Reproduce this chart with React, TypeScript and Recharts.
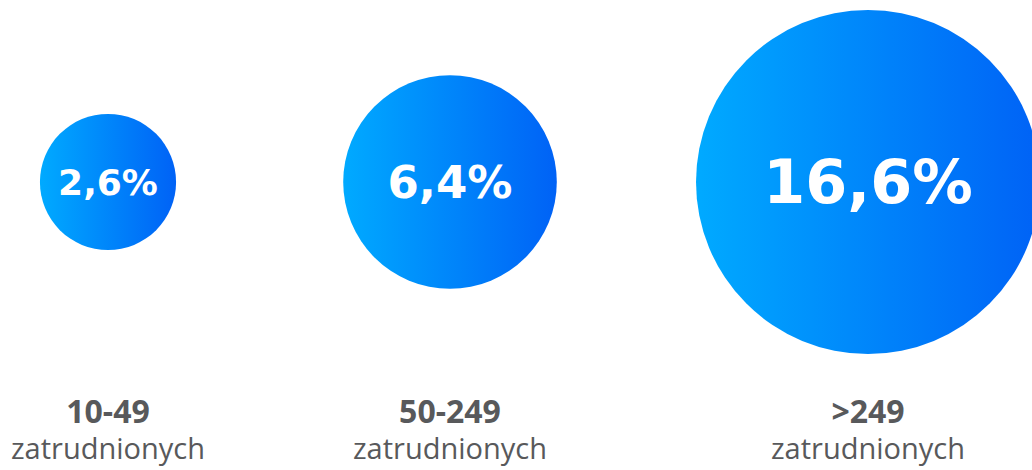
import { ScatterChart, Scatter, XAxis, YAxis, ZAxis } from "recharts";

// company size buckets and share (%)
const sizeLabels = ["10-49", "50-249", ">249"];
const shares = [2.6, 6.4, 16.6];
// horizontal position of each bubble on a 0-1032 axis
const positions = [108, 450, 868];

const data = sizeLabels.map((label, i) => ({
  label,
  x: positions[i],
  y: 0.5,
  value: shares[i],
}));

const MAX_R = 172;

const Bubble = (props: any) => {
  const { cx, cy, width, payload } = props;
  const r = width / 2;
  const fontSize = 20 + r * 0.235;
  return (
    <g>
      <circle cx={cx} cy={cy} r={r} fill="url(#bubbleGrad)" />
      <text
        x={cx}
        y={cy}
        textAnchor="middle"
        dominantBaseline="central"
        fill="#fff"
        fontFamily="DejaVu Sans"
        fontWeight="bold"
        fontSize={fontSize}
      >
        {payload.value.toString().replace(".", ",")}%
      </text>
    </g>
  );
};

const SizeTick = (props: any) => {
  const { x, y, payload } = props;
  const idx = positions.indexOf(payload.value);
  if (idx < 0) return null;
  return (
    <g>
      <text
        x={x}
        y={y + 51}
        textAnchor="middle"
        fill="#58595b"
        fontFamily="Open Sans"
        fontWeight="bold"
        fontSize={32}
      >
        {sizeLabels[idx]}
      </text>
      <text
        x={x}
        y={y + 87}
        textAnchor="middle"
        fill="#58595b"
        fontFamily="Open Sans"
        fontSize={29}
      >
        zatrudnionych
      </text>
    </g>
  );
};

export default function App() {
  return (
    <div style={{ position: "absolute", left: 0, top: 0, width: 1032, height: 470, background: "#fff" }}>
      <ScatterChart width={1032} height={470} margin={{ top: 0, right: 0, bottom: 0, left: 0 }}>
        <defs>
          <linearGradient id="bubbleGrad" x1="0" y1="0" x2="1" y2="0">
            <stop offset="0%" stopColor="#00aaff" />
            <stop offset="100%" stopColor="#0062f6" />
          </linearGradient>
        </defs>
        <XAxis
          type="number"
          dataKey="x"
          domain={[0, 1032]}
          ticks={positions}
          interval={0}
          height={106}
          axisLine={false}
          tickLine={false}
          tick={<SizeTick />}
        />
        <YAxis type="number" dataKey="y" domain={[0, 1]} hide width={0} />
        <ZAxis
          type="number"
          dataKey="value"
          domain={[0, 16.6]}
          range={[0, Math.PI * MAX_R * MAX_R]}
        />
        <Scatter data={data} shape={<Bubble />} isAnimationActive={false} />
      </ScatterChart>
    </div>
  );
}
